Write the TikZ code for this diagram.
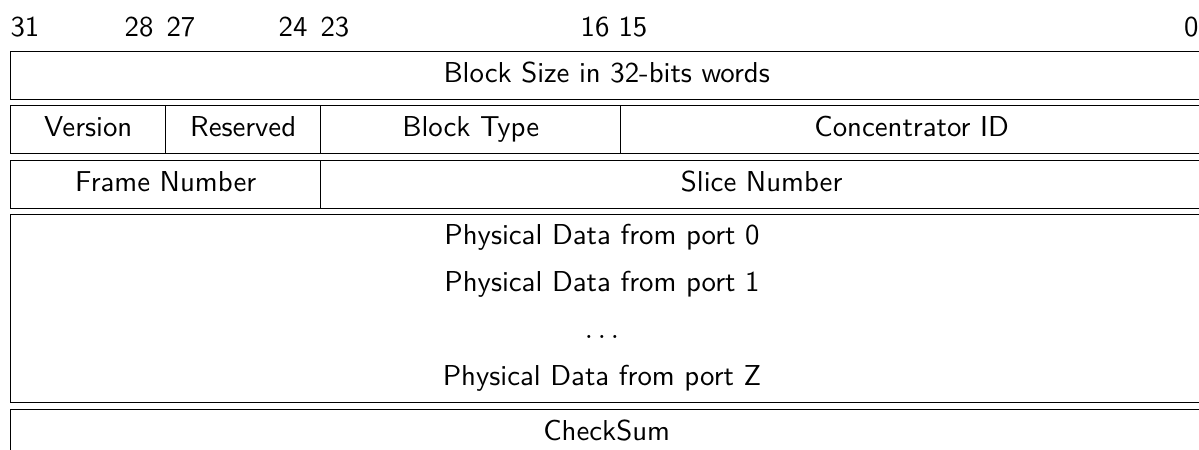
\documentclass[tikz,border=0pt]{standalone}
\usetikzlibrary{positioning}
\newcommand{\pxlen}{0.375pt}
\begin{document}
\begin{tikzpicture}[x=\pxlen,y=-\pxlen,every node/.style={font=\sffamily\fontsize{10.8}{13}\selectfont},
  field/.style={draw,line width=0.5pt,anchor=north west,inner sep=0pt,minimum height=48*\pxlen,text height=7.6pt,text depth=2.4pt},
  bitnum/.style={inner sep=0pt}]
\useasboundingbox (0,0) rectangle (1199,450);
% bit numbers
\node[bitnum,anchor=base west] (b31) at (10,36) {31};
\node[bitnum,anchor=base east] (b28) at (154,36) {28};
\node[bitnum,anchor=base west] (b27) at (166,36) {27};
\node[bitnum,anchor=base east] (b24) at (308,36) {24};
\node[bitnum,anchor=base west] (b23) at (320,36) {23};
\node[bitnum,anchor=base east] (b16) at (610,36) {16};
\node[bitnum,anchor=base west] (b15) at (618,36) {15};
\node[bitnum,anchor=base east] (b0) at (1199,36) {0};
% word 0
\node[field,minimum width=1192*\pxlen] (size) at (10,51) {Block Size in 32-bits words};
% word 1
\node[field,minimum width=155*\pxlen] (version) at (10,105) {Version};
\node[field,minimum width=155*\pxlen] (reserved) at (165,105) {Reserved};
\node[field,minimum width=300*\pxlen] (type) at (320,105) {Block Type};
\node[field,minimum width=582*\pxlen] (conc) at (620,105) {Concentrator ID};
% word 2
\node[field,minimum width=310*\pxlen] (frame) at (10,159.5) {Frame Number};
\node[field,minimum width=882*\pxlen] (slice) at (320,159.5) {Slice Number};
% payload
\node[field,minimum width=1192*\pxlen,minimum height=188*\pxlen] (ports) at (10,214) {};
\node[text height=7.6pt,text depth=2.4pt] (port0) at (602,238) {Physical Data from port 0};
\node[text height=7.6pt,text depth=2.4pt] (port1) at (602,285) {Physical Data from port 1};
\node[text height=7.6pt,text depth=2.4pt] (dots) at (602,332) {$\dots$};
\node[text height=7.6pt,text depth=2.4pt] (portz) at (602,379) {Physical Data from port Z};
% trailer
\node[field,minimum width=1192*\pxlen] (check) at (10,409) {CheckSum};
\end{tikzpicture}
\end{document}
